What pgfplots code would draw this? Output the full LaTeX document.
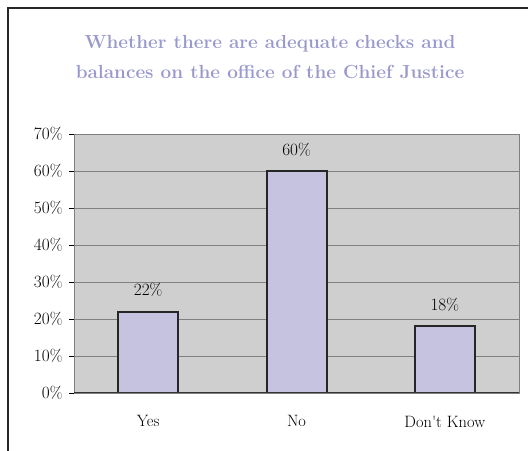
\documentclass[border=0pt]{standalone}
\usepackage{pgfplots}
\pgfplotsset{compat=1.18}
\definecolor{titlec}{RGB}{153,153,206}
\definecolor{barc}{RGB}{198,195,225}
\definecolor{bgc}{RGB}{207,207,207}
\definecolor{gridc}{RGB}{128,128,128}
\definecolor{framec}{RGB}{40,40,40}
\begin{document}
\begin{tikzpicture}[x=1bp,y=1bp]
\path[use as bounding box] (0,0) rectangle (528,451);
\draw[framec,line width=1.6bp] (8,0) -- (8,443) -- (528,443);
\node[titlec,align=center,font=\fontsize{19}{30}\selectfont\bfseries] at (270,394) {Whether there are adequate checks and\\balances on the office of the Chief Justice};
\begin{axis}[
  at={(74bp,58bp)}, anchor=south west,
  scale only axis, width=445bp, height=259bp,
  xmin=0.5, xmax=3.5, ymin=0, ymax=70,
  ybar, bar width=60bp,
  ytick={0,10,...,70},
  yticklabel={\pgfmathprintnumber{\tick}\%},
  xtick={1,2,3},
  xticklabels={Yes,No,Don\textquotesingle t Know},
  extra x ticks={0.5,1.5,2.5,3.5},
  extra x tick labels={},
  extra x tick style={major tick length=5bp, tick style={draw=black}},
  major x tick style={draw=none},
  tick align=outside,
  ytick pos=left, xtick pos=bottom,
  major tick length=5bp,
  tick style={black, line width=0.6bp},
  ymajorgrids, grid style={gridc, line width=0.8bp},
  axis background/.style={fill=bgc},
  axis line style={gridc, line width=0.8bp},
  tick label style={font=\fontsize{16.5}{18}\selectfont},
  xticklabel style={yshift=-14bp},
  yticklabel style={xshift=-3bp},
  nodes near coords={\pgfmathprintnumber{\pgfplotspointmeta}\%},
  every node near coord/.append style={font=\fontsize{16.5}{18}\selectfont, black, yshift=10.5bp},
]
\addplot[fill=barc, draw=black!85, line width=2bp] coordinates {(1,22) (2,60) (3,18)};
\draw[black!80, line width=1bp] (axis cs:0.5,0) -- (axis cs:3.5,0);
\end{axis}
\end{tikzpicture}
\end{document}
